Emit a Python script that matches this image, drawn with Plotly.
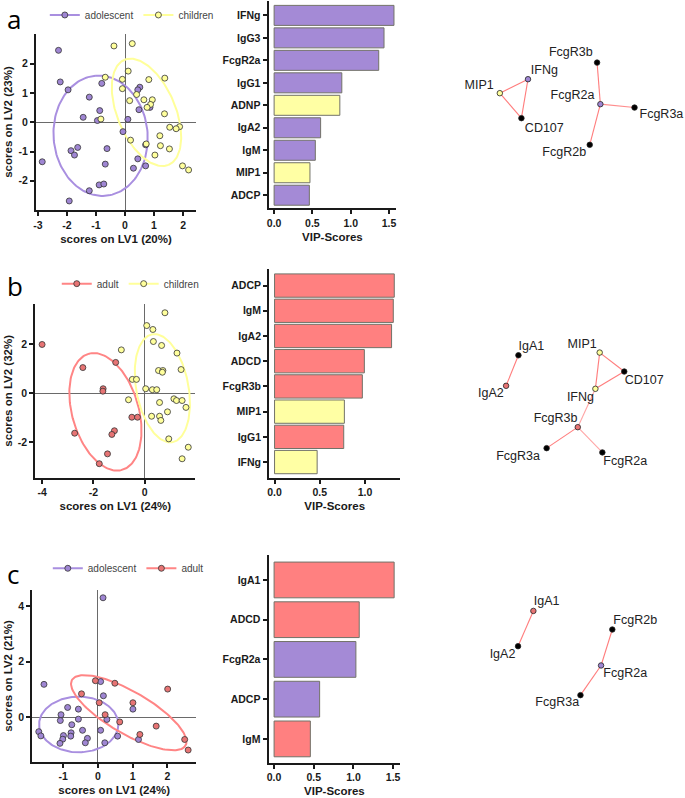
import numpy as np
import plotly.graph_objects as go

W, H = 685, 798

# ---- colours
PT = {"adolescent": "#9f86d3", "children": "#ffff9c", "adult": "#e77474"}
BAR = {"adolescent": "#a48ad6", "children": "#ffffa4", "adult": "#ff8080"}
ELL = {"adolescent": "#a98fe0", "children": "#ffff9a", "adult": "#ff8585"}

# ---- panel a: adolescent vs children
a_adol_x = [-2.29, -2.23, -1.96, -1.23, -1.44, -0.87, -0.80, -0.95, -2.85, -1.86, -1.74, -1.63, -0.62, -0.68,
            -0.89, -0.73, -1.23, -1.92, -0.07, 0.10, 0.51, 0.44, 0.48, 0.86, 0.71, 0.44, 0.29, 0.71]
a_adol_y = [2.46, 1.38, 1.11, 0.86, 0.17, 0.40, 1.33, 0.06, -1.35, -0.97, -1.12, -0.86, -0.90, -1.43,
            -2.14, -2.11, -2.34, -2.69, -0.32, 0.10, 1.20, 1.11, 0.43, 0.51, -0.77, -1.25, -1.57, -1.49]
a_child_x = [-0.38, 0.25, 0.11, -0.09, -0.09, -0.68, -0.83, 0.16, 0.40, 0.65, 0.82, 1.37, 0.94, 0.88, 0.76,
             1.36, 1.54, 1.88, 1.76, 1.20, 1.22, 1.53, 1.03, 0.19, 0.73, 1.98, 2.19]
a_child_y = [2.61, 2.69, 1.75, 1.47, 1.15, 1.54, 0.11, 0.74, 0.95, 0.77, 1.46, 1.51, 0.77, 0.61, 0.51,
             0.29, -0.17, -0.15, -0.22, -0.46, -0.80, -0.91, -1.12, -0.61, -0.74, -1.49, -1.63]
# ellipse: centre x, centre y, semi-major, semi-minor, angle (deg)
a_ell = {"adolescent": (-0.84, -0.46, 2.06, 1.62, 95), "children": (0.74, 0.34, 1.95, 1.0, -67)}

a_bar_labels = ["IFNg", "IgG3", "FcgR2a", "IgG1", "ADNP", "IgA2", "IgM", "MIP1", "ADCP"]
a_bar_vals = [1.565, 1.435, 1.366, 0.884, 0.858, 0.607, 0.538, 0.468, 0.46]
a_bar_grp = ["adolescent", "adolescent", "adolescent", "adolescent", "children",
             "adolescent", "adolescent", "children", "adolescent"]

a_net_nodes = ["MIP1", "IFNg", "CD107", "FcgR3b", "FcgR2a", "FcgR3a", "FcgR2b"]
a_net_x = [59, 87.3, 80.7, 156.7, 160, 194.3, 149.3]
a_net_y = [92.3, 78.3, 117.3, 61.7, 103.3, 106.7, 144]
a_net_grp = ["children", "adolescent", None, None, "adolescent", None, None]
a_lab_x = [38.3, 103.7, 103.7, 130.3, 132, 221.3, 123.7]
a_lab_y = [85, 70, 128.3, 52, 94.7, 114, 151.7]
a_edges = [("MIP1", "IFNg", 1), ("MIP1", "CD107", 1), ("IFNg", "CD107", 1),
           ("FcgR3b", "FcgR2a", 1), ("FcgR2a", "FcgR3a", 0.8), ("FcgR2a", "FcgR2b", 1)]

# ---- panel b: adult vs children
b_adult_x = [-4.0, -2.41, -1.13, -1.62, -1.63, -2.73, -1.18, -1.28, -1.45, -1.77, -0.50, -0.28]
b_adult_y = [1.98, 1.04, 1.25, 0.18, 0.08, -1.63, -1.53, -1.68, -2.47, -2.87, -0.98, -0.98]
b_child_x = [-0.91, -0.48, -0.32, -0.63, 0.08, 0.32, 0.34, 0.79, 0.66, 1.26, 1.42, 0.54, 0.71, 0.69, 0.04,
             0.30, 0.47, 1.14, 1.24, 1.46, 1.61, 0.58, 0.89, 0.27, 0.58, 0.63, 0.94, 1.70, 1.46]
b_child_y = [1.76, 0.56, 0.56, -0.27, 2.75, 2.59, 2.10, 3.27, 1.94, 1.63, 0.96, 0.92, 0.92, 0.85, 0.18,
             0.14, 0.14, -0.23, -0.30, -0.30, -0.58, -0.38, -0.76, -0.94, -0.94, -1.11, -1.86, -2.20, -2.67]
b_ell = {"adult": (-1.53, -0.76, 2.45, 1.30, 105), "children": (0.69, 0.20, 2.23, 1.02, 100)}

b_bar_labels = ["ADCP", "IgM", "IgA2", "ADCD", "FcgR3b", "MIP1", "IgG1", "IFNg"]
b_bar_vals = [1.324, 1.313, 1.294, 0.993, 0.971, 0.772, 0.765, 0.471]
b_bar_grp = ["adult", "adult", "adult", "adult", "adult", "children", "adult", "children"]

b_net_nodes = ["IgA1", "IgA2", "MIP1", "CD107", "IFNg", "FcgR3b", "FcgR3a", "FcgR2a"]
b_net_x = [77.7, 65.3, 159.3, 184, 155, 137.3, 106, 162]
b_net_y = [84.7, 115.3, 82, 101, 118.3, 156.7, 177.7, 182]
b_net_grp = [None, "adult", "children", None, "children", "adult", None, None]
b_lab_x = [90.7, 50, 141.7, 204, 140, 115, 77.3, 185]
b_lab_y = [76, 123.3, 74, 110, 127.3, 148.7, 186, 191.7]
b_edges = [("IgA1", "IgA2", 1), ("MIP1", "CD107", 1), ("MIP1", "IFNg", 1), ("CD107", "IFNg", 1),
           ("IFNg", "FcgR3b", 0.5), ("FcgR3b", "FcgR3a", 1), ("FcgR3b", "FcgR2a", 0.5)]

# ---- panel c: adolescent vs adult
c_adol_x = [0.15, -1.55, 0.08, 0.16, 1.01, -1.06, -1.08, -0.87, -0.56, -0.75, -0.56, 0.26, -1.70, -1.64,
            -0.99, -1.01, -1.09, -0.77, -0.78, -0.44, -0.30, -0.36, 0.08, 0.20, 0.57, 1.17]
c_adol_y = [4.30, 1.19, 1.29, 0.78, 0.30, 0.10, -0.11, 0.36, 0.30, -0.26, -0.06, -0.07, -0.51, -0.66,
            -0.65, -0.78, -0.93, -0.55, -0.67, -0.46, -0.75, -0.91, -0.46, -0.91, -0.67, -0.79]
c_adult_x = [-0.07, 0.49, -0.47, 0.04, 0.21, 0.63, 1.01, 2.01, 1.68, 1.21, 2.50, 2.60]
c_adult_y = [1.32, 1.23, 0.85, 0.53, 0.10, -0.16, 0.53, 1.02, -0.31, -0.61, -0.79, -1.17]
c_ell = {"adolescent": (-0.55, -0.25, 1.14, 1.0, 0), "adult": (0.89, 0.17, 2.02, 0.71, -37.4)}

c_bar_labels = ["IgA1", "ADCD", "FcgR2a", "ADCP", "IgM"]
c_bar_vals = [1.513, 1.073, 1.031, 0.574, 0.457]
c_bar_grp = ["adult", "adult", "adolescent", "adolescent", "adult"]

c_net_nodes = ["IgA1", "IgA2", "FcgR2b", "FcgR2a", "FcgR3a"]
c_net_x = [92.7, 77.3, 172, 160.7, 140]
c_net_y = [60.7, 96, 79.3, 115.3, 145]
c_net_grp = ["adult", None, None, "adolescent", None]
c_lab_x = [106, 61.7, 195, 185, 116.7]
c_lab_y = [51.7, 105, 70.7, 124, 152.7]
c_edges = [("IgA1", "IgA2", 1), ("FcgR2b", "FcgR2a", 1), ("FcgR2a", "FcgR3a", 1)]

FONT = "Liberation Sans, Arial, sans-serif"
TICKF = dict(family=FONT, size=10.5, color="#1a1a1a", weight="bold")
TITLEF = dict(family=FONT, size=11.5, color="#1a1a1a", weight="bold")


def xd(l, r):
    return [l / W, r / W]


def yd(top, bottom):
    return [1 - bottom / H, 1 - top / H]


def ellipse(cx, cy, a, b, ang):
    t = np.linspace(0, 2 * np.pi, 160)
    th = np.radians(ang)
    x = cx + a * np.cos(t) * np.cos(th) - b * np.sin(t) * np.sin(th)
    y = cy + a * np.cos(t) * np.sin(th) + b * np.sin(t) * np.cos(th)
    return x, y


fig = go.Figure()
layout = {}


def axis_common():
    return dict(showline=True, linecolor="#1a1a1a", linewidth=2, ticks="outside", ticklen=4,
                tickwidth=1.5, tickcolor="#1a1a1a", tickfont=TICKF, showgrid=False)


def scatter_panel(n, groups, ell, legend, xdom, ydom, xr, yr, xt, yt, xtitle, ytitle):
    xa, ya = ("x%d" % n if n > 1 else "x"), ("y%d" % n if n > 1 else "y")
    for g, (gx, gy) in groups.items():
        ex, ey = ellipse(*ell[g])
        fig.add_trace(go.Scatter(x=ex, y=ey, mode="lines", line=dict(color=ELL[g], width=2),
                                 xaxis=xa, yaxis=ya, showlegend=False, hoverinfo="skip"))
    for g, (gx, gy) in groups.items():
        fig.add_trace(go.Scatter(x=gx, y=gy, mode="markers", name=g, xaxis=xa, yaxis=ya, showlegend=False,
                                 marker=dict(size=6, color=PT[g], line=dict(color="#333333", width=0.8))))
        fig.add_trace(go.Scatter(x=[None], y=[None], mode="lines+markers", name=g, xaxis=xa, yaxis=ya,
                                 legend=legend, line=dict(color=ELL[g], width=2),
                                 marker=dict(size=6, color=PT[g], line=dict(color="#333333", width=0.8))))
    key = "" if n == 1 else str(n)
    ax = axis_common()
    ax.update(domain=xd(*xdom), range=xr, tickvals=xt, ticktext=[str(v) for v in xt],
              zeroline=True, zerolinecolor="#6a6a6a", zerolinewidth=1.2, anchor=ya,
              title=dict(text=xtitle, font=TITLEF, standoff=5))
    ay = axis_common()
    ay.update(domain=yd(*ydom), range=yr, tickvals=yt, ticktext=[str(v) for v in yt],
              zeroline=True, zerolinecolor="#6a6a6a", zerolinewidth=1.2, anchor=xa,
              title=dict(text=ytitle, font=TITLEF, standoff=3))
    layout["xaxis" + key] = ax
    layout["yaxis" + key] = ay


def bar_panel(n, labels, vals, grp, width, xdom, ydom, xr, ytop, ybot, xt):
    xa, ya = "x%d" % n, "y%d" % n
    fig.add_trace(go.Bar(x=vals, y=labels, orientation="h", xaxis=xa, yaxis=ya, width=width,
                         marker=dict(color=[BAR[g] for g in grp], line=dict(color="#727268", width=1)),
                         showlegend=False))
    ax = axis_common()
    ax.update(domain=xd(*xdom), range=xr, tickvals=xt, ticktext=["%.1f" % v for v in xt], anchor=ya,
              zeroline=False, title=dict(text="VIP-Scores", font=TITLEF, standoff=5))
    ay = axis_common()
    ay.update(domain=yd(*ydom), type="category", categoryorder="array", categoryarray=labels[::-1],
              range=[-ybot, len(labels) - 1 + ytop], anchor=xa, zeroline=False)
    layout["xaxis%d" % n] = ax
    layout["yaxis%d" % n] = ay


def net_panel(n, nodes, nx, ny, ngrp, lx, ly, edges, top):
    xa, ya = "x%d" % n, "y%d" % n
    pos = {k: (x, y) for k, x, y in zip(nodes, nx, ny)}
    for s, t, w in edges:
        col = "rgba(255,110,110,%.2f)" % (0.35 + 0.55 * w)
        fig.add_trace(go.Scatter(x=[pos[s][0], pos[t][0]], y=[pos[s][1], pos[t][1]], mode="lines",
                                 line=dict(color=col, width=1.1), xaxis=xa, yaxis=ya,
                                 showlegend=False, hoverinfo="skip"))
    fig.add_trace(go.Scatter(x=nx, y=ny, mode="markers", xaxis=xa, yaxis=ya, showlegend=False,
                             marker=dict(size=5.5, color=[PT[g] if g else "#000000" for g in ngrp],
                                         line=dict(color="#222222", width=0.8))))
    fig.add_trace(go.Scatter(x=lx, y=ly, mode="text", text=nodes, xaxis=xa, yaxis=ya, showlegend=False,
                             cliponaxis=False, textfont=dict(family=FONT, size=12.5, color="#222222")))
    layout["xaxis%d" % n] = dict(domain=xd(440, 685), range=[0, 245], visible=False, anchor=ya)
    layout["yaxis%d" % n] = dict(domain=yd(top, top + 230), range=[230, 0], visible=False, anchor=xa)


scatter_panel(1, {"adolescent": (a_adol_x, a_adol_y), "children": (a_child_x, a_child_y)}, a_ell, "legend",
              (33, 194), (33, 209.3), [-3.07, 2.45], [-3.0, 3.02], [-3, -2, -1, 0, 1, 2], [-2, -1, 0, 1, 2],
              "scores on LV1 (20%)", "scores on LV2 (23%)")
bar_panel(2, a_bar_labels, a_bar_vals, a_bar_grp, 0.89, (266.7, 395), (0, 207.3), [-0.073, 1.595],
          0.64, 0.57, [0, 0.5, 1.0, 1.5])
net_panel(3, a_net_nodes, a_net_x, a_net_y, a_net_grp, a_lab_x, a_lab_y, a_edges, 0)

scatter_panel(4, {"adult": (b_adult_x, b_adult_y), "children": (b_child_x, b_child_y)}, b_ell, "legend2",
              (32.3, 193.3), (303.3, 477.3), [-4.27, 1.98], [-3.44, 3.63], [-4, -2, 0], [-2, 0, 2],
              "scores on LV1 (24%)", "scores on LV2 (32%)")
bar_panel(5, b_bar_labels, b_bar_vals, b_bar_grp, 0.925, (267.3, 399), (268, 477.3), [-0.06, 1.39],
          0.67, 0.62, [0, 0.5, 1.0])
net_panel(6, b_net_nodes, b_net_x, b_net_y, b_net_grp, b_lab_x, b_lab_y, b_edges, 270)

scatter_panel(7, {"adolescent": (c_adol_x, c_adol_y), "adult": (c_adult_x, c_adult_y)}, c_ell, "legend3",
              (29.3, 194), (590, 761.7), [-1.89, 2.83], [-1.59, 4.57], [-1, 0, 1, 2], [0, 2, 4],
              "scores on LV1 (24%)", "scores on LV2 (21%)")
bar_panel(8, c_bar_labels, c_bar_vals, c_bar_grp, 0.9, (266.7, 399), (555, 762.7), [-0.07, 1.59],
          0.62, 0.60, [0, 0.5, 1.0, 1.5])
net_panel(9, c_net_nodes, c_net_x, c_net_y, c_net_grp, c_lab_x, c_lab_y, c_edges, 550)

leg = dict(orientation="h", xanchor="left", yanchor="middle", bgcolor="rgba(0,0,0,0)",
           font=dict(family=FONT, size=10, color="#444444"), itemwidth=30, tracegroupgap=0)
layout["legend"] = dict(leg, x=42 / W, y=1 - 14 / H)
layout["legend2"] = dict(leg, x=54 / W, y=1 - 283 / H)
layout["legend3"] = dict(leg, x=45 / W, y=1 - 568 / H)

for letter, ly in [("a", 18), ("b", 285), ("c", 574)]:
    fig.add_annotation(text=letter, x=2 / W, y=1 - ly / H, xref="paper", yref="paper", xanchor="left",
                       yanchor="middle", showarrow=False,
                       font=dict(family="Open Sans, Noto Sans, sans-serif", size=26, color="#000000"))

fig.update_layout(width=W, height=H, margin=dict(l=0, r=0, t=0, b=0), plot_bgcolor="white",
                  paper_bgcolor="white", bargap=0.1, **layout)

# the default page keeps an 8px body margin; drop it so the figure sits at the window origin
fig.write_html("out.html", config={"displayModeBar": False},
               post_script="document.body.style.margin='0';document.body.style.overflow='hidden';")
